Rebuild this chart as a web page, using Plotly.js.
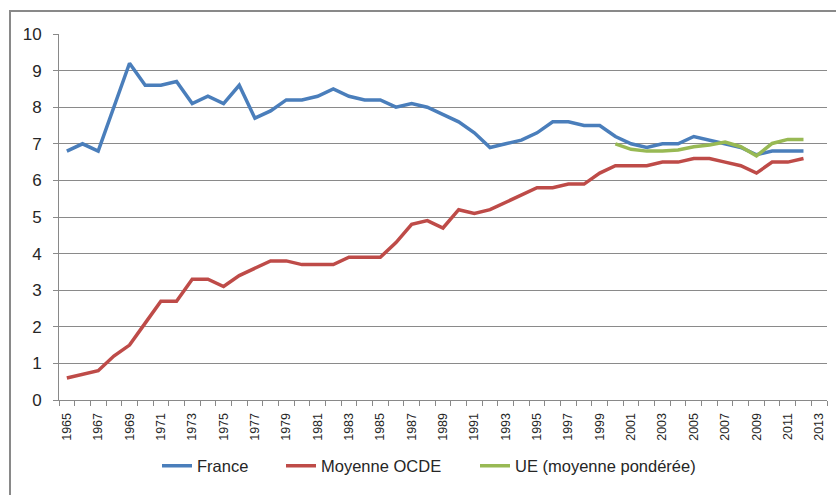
<!DOCTYPE html>
<html>
<head>
<meta charset="utf-8">
<script src="https://cdn.plot.ly/plotly-3.0.1.min.js"></script>
<style>
  html, body { margin: 0; padding: 0; background: #ffffff; }
  #chart { position: absolute; left: 0; top: 0; width: 836px; height: 495px; }
  #frame { position: absolute; left: 9px; top: 10px; width: 900px; height: 600px;
           border-left: 2px solid #898989; border-top: 2px solid #898989; pointer-events: none; }
</style>
</head>
<body>
<div id="chart"></div>
<div id="frame"></div>
<script>
const years = [];
for (let y = 1965; y <= 2012; y++) years.push(y);

const france = [6.8, 7.0, 6.8, 8.0, 9.2, 8.6, 8.6, 8.7, 8.1, 8.3,
                8.1, 8.6, 7.7, 7.9, 8.2, 8.2, 8.3, 8.5, 8.3, 8.2,
                8.2, 8.0, 8.1, 8.0, 7.8, 7.6, 7.3, 6.9, 7.0, 7.1,
                7.3, 7.6, 7.6, 7.5, 7.5, 7.2, 7.0, 6.9, 7.0, 7.0,
                7.2, 7.1, 7.0, 6.9, 6.7, 6.8, 6.8, 6.8];

const ocde = [0.6, 0.7, 0.8, 1.2, 1.5, 2.1, 2.7, 2.7, 3.3, 3.3,
              3.1, 3.4, 3.6, 3.8, 3.8, 3.7, 3.7, 3.7, 3.9, 3.9,
              3.9, 4.3, 4.8, 4.9, 4.7, 5.2, 5.1, 5.2, 5.4, 5.6,
              5.8, 5.8, 5.9, 5.9, 6.2, 6.4, 6.4, 6.4, 6.5, 6.5,
              6.6, 6.6, 6.5, 6.4, 6.2, 6.5, 6.5, 6.6];

const ueYears = [2000, 2001, 2002, 2003, 2004, 2005, 2006, 2007, 2008, 2009, 2010, 2011, 2012];
const ue = [7.0, 6.85, 6.8, 6.8, 6.83, 6.92, 6.97, 7.05, 6.92, 6.67, 7.01, 7.12, 7.12];

const tickYears = [];
for (let y = 1965; y <= 2013; y += 2) tickYears.push(y);
const tickLabels = tickYears.map(String);
const boundaries = [];
for (let b = 1964.5; b <= 2013.5; b += 1) boundaries.push(b);

const names = ['France', 'Moyenne OCDE', 'UE (moyenne pondérée)'];
const colors = ['#4A7EBB', '#BE4B48', '#98B954'];

const traces = [
  { x: years, y: france, name: names[0], legend: 'legend' },
  { x: years, y: ocde, name: names[1], legend: 'legend2' },
  { x: ueYears, y: ue, name: names[2], legend: 'legend3' }
].map((t, i) => Object.assign(t, {
  type: 'scatter', mode: 'lines',
  line: { color: colors[i], width: 3.5 },
  hoverinfo: 'skip'
}));

const L = 59, R = 827, T = 34, B = 400;
const W = R - L, H = B - T;
const px = v => (v - L) / W;
const legY = (B - 466) / H;
const legFont = { family: 'Liberation Sans, Arial, sans-serif', size: 16.5, color: '#262626' };
const legBase = { orientation: 'h', xanchor: 'left', yanchor: 'middle', y: legY,
                  font: legFont, bgcolor: 'rgba(0,0,0,0)', borderwidth: 0 };

const layout = {
  width: 836, height: 495,
  margin: { l: L, r: 836 - R, t: T, b: 495 - B, pad: 0 },
  paper_bgcolor: '#ffffff', plot_bgcolor: '#ffffff',
  font: { family: 'Liberation Sans, Arial, sans-serif', color: '#262626' },
  showlegend: true,
  legend: Object.assign({}, legBase, { x: px(157) }),
  legend2: Object.assign({}, legBase, { x: px(281) }),
  legend3: Object.assign({}, legBase, { x: px(475) }),
  xaxis: {
    type: 'linear', range: [1964.5, 2013.5],
    tickmode: 'array', tickvals: tickYears, ticktext: tickLabels,
    tickangle: -90, ticks: '', ticklen: 0,
    tickfont: { size: 12.5, color: '#262626' },
    ticklabelstandoff: 7,
    showgrid: false, zeroline: false,
    showline: true, linecolor: '#898989', linewidth: 1,
    minor: { tickmode: 'array', tickvals: boundaries, ticks: 'outside', ticklen: 5,
             tickcolor: '#898989', tickwidth: 1, showgrid: false },
    fixedrange: true
  },
  yaxis: {
    range: [0, 10], tickmode: 'linear', tick0: 0, dtick: 1,
    ticks: 'outside', ticklen: 5, tickcolor: '#898989',
    tickfont: { size: 17, color: '#262626' },
    ticklabelstandoff: 8,
    showgrid: true, gridcolor: '#8a8a8a', gridwidth: 1,
    zeroline: false, showline: true, linecolor: '#898989', linewidth: 1,
    fixedrange: true
  }
};

Plotly.newPlot('chart', traces, layout, { staticPlot: true, displayModeBar: false });
</script>
</body>
</html>
